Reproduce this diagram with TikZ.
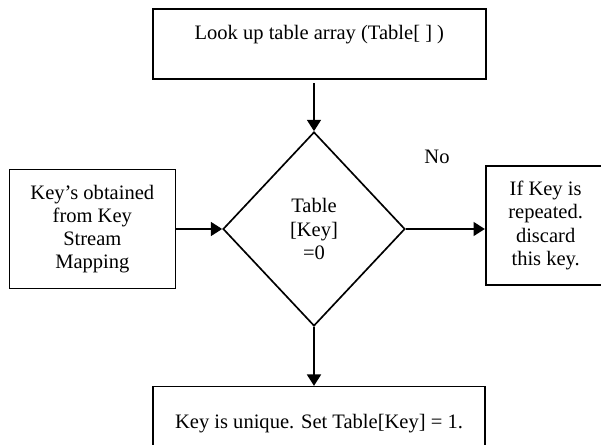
\documentclass[tikz,border=0pt]{standalone}
\usepackage{fontspec}
\setmainfont{Liberation Serif}
\usetikzlibrary{arrows.meta,positioning,shapes.geometric}

\begin{document}
\begin{tikzpicture}[
  x=0.75pt,y=-0.75pt,
  font=\fontsize{15.4}{17.4}\selectfont,
  box/.style={draw,line width=1.25pt,align=center,inner sep=2pt},
  test/.style={draw,diamond,line width=1.25pt,align=center,inner sep=0pt,
    minimum width=136.5pt,minimum height=145.5pt},
  flow/.style={line width=1.25pt,-{Triangle[length=8.5pt,width=10.5pt]}}
]
  \useasboundingbox (0,0) rectangle (601,445);

  \node[test] (T) at (314,229) {Table\\{[Key]}\\=0};
  \node[box,minimum width=249.75pt,minimum height=52.5pt,above=38.25pt of T,xshift=4pt]
    (A) {Look up table array (Table[ ] )\\ \mbox{}};
  \node[box,minimum width=124.5pt,minimum height=89.25pt,left=34.5pt of T]
    (L) {Key’s obtained\\from Key\\Stream\\Mapping};
  \node[box,minimum width=90pt,minimum height=89.25pt,right=59.25pt of T,yshift=2.6pt]
    (R) {If Key is\\repeated.\\discard\\this key.};
  \node[box,minimum width=249pt,minimum height=69.75pt,below=44.25pt of T,xshift=3.75pt]
    (B) {Key is unique. Set Table[Key] = 1.\\ \mbox{}};
  \node (no) at (437,157) {No};

  \draw[flow,shorten <=2.5pt] (T.north |- A.south) -- (T.north);
  \draw[flow] (L.east) -- (T.west);
  \draw[flow] (T.east) -- (T.east -| R.west);
  \draw[flow] (T.south) -- (T.south |- B.north);
\end{tikzpicture}
\end{document}
